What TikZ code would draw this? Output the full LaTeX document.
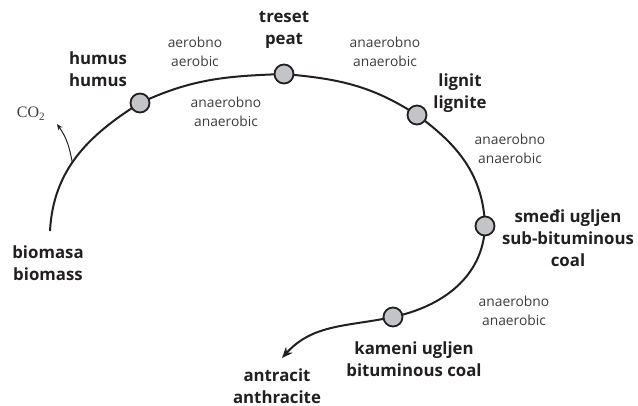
\documentclass[tikz,border=0pt]{standalone}
\usepackage{fontspec}
\setmainfont{Open Sans}
\newfontfamily\seriffont{Liberation Serif}
\usepackage{tikz}
\usetikzlibrary{arrows.meta}
\definecolor{dotgrey}{RGB}{195,196,199}
\definecolor{txtdark}{RGB}{35,31,32}
\definecolor{txtgrey}{RGB}{60,60,60}
\tikzset{
  coal/.style={circle,draw=txtdark,line width=1.8pt,fill=dotgrey,minimum size=19pt,inner sep=0pt},
  big/.style={align=center,text=txtdark,font=\fontsize{16.8}{22}\selectfont\bfseries},
  cond/.style={align=center,text=txtgrey,font=\fontsize{13.8}{18.5}\selectfont}
}
\begin{document}
\begin{tikzpicture}[x=1pt,y=-1pt]
\useasboundingbox (0,0) rectangle (638,406);

% to place the stages
\coordinate (start) at (50,231);
\coordinate (humus) at (140,103);
\coordinate (treset) at (284,74);
\coordinate (lignit) at (417,115);
\coordinate (smedi) at (485,226);
\coordinate (kameni) at (393,317);
\coordinate (kraj) at (282,358);

% to draw the curve
\draw [line width=2pt,txtdark,-{Stealth[length=11pt,width=9pt]}]
  (start) to[out=87,in=212] coordinate[pos=0.45] (odvod) (humus)
  to[out=25,in=182] (treset)
  to[out=-5,in=147] (lignit)
  to[out=-36,in=92] (smedi)
  to[out=-92,in=12] (kameni)
  to[out=192,in=48] (kraj);
% to draw the dots on top
\foreach \n in {humus,treset,lignit,smedi,kameni}
  \node [coal] (\n dot) at (\n) {};

% CO2 release
\coordinate (co2) at (57,124);
\draw [line width=1pt,txtdark,-{Stealth[length=6pt,width=5pt]}] (odvod) to[out=100,in=-55] (co2);
\node [text=txtgrey,font=\fontsize{16}{16}\selectfont\seriffont] (co2lab) at (31,114) {CO\textsubscript{2}};

% to write stages
\node [big] (biomasa) at (48,263) {biomasa\\biomass};
\node [big] (humuslab) at (98,69) {humus\\humus};
\node [big] (tresetlab) at (284,30) {treset\\peat};
\node [big] (lignitlab) at (460,93) {lignit\\lignite};
\node [big] (smedilab) at (568,238) {smeđi ugljen\\sub-bituminous\\coal};
\node [big] (kamenilab) at (414,359) {kameni ugljen\\bituminous coal};
\node [big] (antracit) at (277,386) {antracit\\anthracite};

% to write conditions
\node [cond] (c1) at (195,52) {aerobno\\aerobic};
\node [cond] (c2) at (226,112) {anaerobno\\anaerobic};
\node [cond] (c3) at (385,52) {anaerobno\\anaerobic};
\node [cond] (c4) at (510,149) {anaerobno\\anaerobic};
\node [cond] (c5) at (514,311) {anaerobno\\anaerobic};
\end{tikzpicture}
\end{document}
